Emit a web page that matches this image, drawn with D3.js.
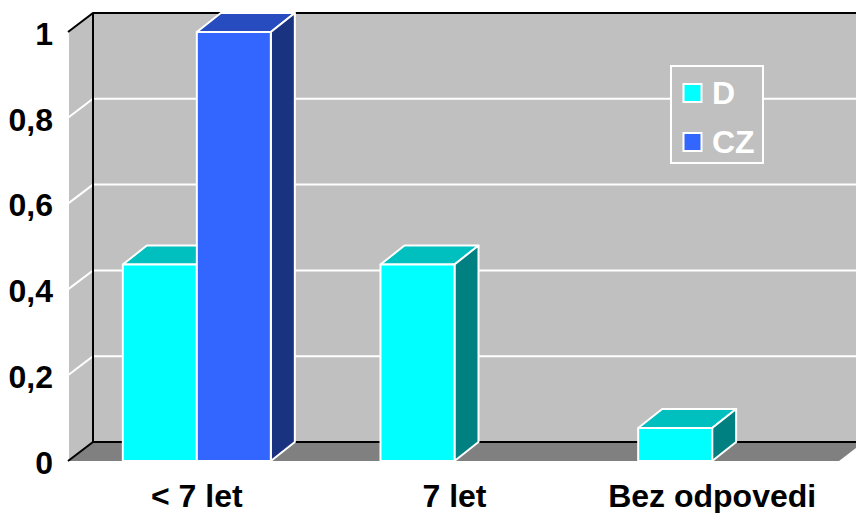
<!DOCTYPE html>
<html>
<head>
<meta charset="utf-8">
<script src="https://cdnjs.cloudflare.com/ajax/libs/d3/7.8.5/d3.min.js"></script>
<style>
  html, body { margin: 0; padding: 0; background: #fff; overflow: hidden; }
  text { font-family: "Liberation Sans", Arial, sans-serif; font-weight: bold; }
</style>
</head>
<body>
<div id="chart"></div>
<script>
// chart data
var categories = ["< 7 let", "7 let", "Bez odpovedi"];
var seriesNames = ["D", "CZ"];
var valuesD = [0.458, 0.458, 0.077];
var valuesCZ = [1, null, null];
var yTicks = [0, 0.2, 0.4, 0.6, 0.8, 1];
var yTickLabels = ["0", "0,2", "0,4", "0,6", "0,8", "1"];

var svgWidth = 856;
var svgHeight = 513;

// front plane of the box, and how far the back wall is shifted
var plot = { left: 68, right: 839, top: 32, bottom: 461 };
var depth = { x: 25, y: -19 };
var barDepth = { x: 24, y: -19 };
var labelSize = 32;

var colors = {
  D: { front: "#00ffff", top: "#00bfbf", side: "#008080" },
  CZ: { front: "#3366ff", top: "#264cbf", side: "#1a3380" }
};

var svg = d3.select("#chart")
  .append("svg")
  .attr("width", svgWidth)
  .attr("height", svgHeight)
  .style("display", "block");

var xScale = d3.scaleBand()
  .domain(categories)
  .range([plot.left, plot.right + 2]);

// bars of one category sit next to each other with no gap
var xInner = d3.scaleBand()
  .domain(seriesNames)
  .range([0, xScale.bandwidth()])
  .paddingOuter(0.741);

var yScale = d3.scaleLinear()
  .domain([0, 1])
  .range([plot.bottom, plot.top]);

function poly(points) {
  return points.map(p => p.join(",")).join(" ");
}

// walls and floor
var y0 = yScale(0), y1 = yScale(1);
svg.append("polygon")
  .attr("points", poly([[plot.left + depth.x, y1 + depth.y], [plot.right + depth.x, y1 + depth.y], [plot.right + depth.x, y0 + depth.y], [plot.left + depth.x, y0 + depth.y]]))
  .attr("fill", "#c0c0c0");
svg.append("polygon")
  .attr("points", poly([[plot.left, y1], [plot.left + depth.x, y1 + depth.y], [plot.left + depth.x, y0 + depth.y], [plot.left, y0]]))
  .attr("fill", "#c0c0c0");
svg.append("polygon")
  .attr("points", poly([[plot.left, y0], [plot.right, y0], [plot.right + depth.x, y0 + depth.y], [plot.left + depth.x, y0 + depth.y]]))
  .attr("fill", "#808080");

// gridlines run along the left wall and then the back wall
var grid = svg.append("g");
grid.selectAll("polyline")
  .data(yTicks.filter(d => d > 0 && d < 1))
  .enter().append("polyline")
  .attr("points", d => poly([[plot.left, yScale(d)], [plot.left + depth.x, yScale(d) + depth.y], [plot.right + depth.x, yScale(d) + depth.y]]))
  .attr("fill", "none")
  .attr("stroke", "#fff")
  .attr("stroke-width", 2);

// white front edge of the left wall
svg.append("line")
  .attr("x1", plot.left).attr("x2", plot.left)
  .attr("y1", y1).attr("y2", y0)
  .attr("stroke", "#fff").attr("stroke-width", 2);

// black frame of the box
svg.append("polyline")
  .attr("points", poly([[plot.left, y1], [plot.left + depth.x, y1 + depth.y], [plot.right + depth.x, y1 + depth.y]]))
  .attr("fill", "none").attr("stroke", "#000").attr("stroke-width", 2);
svg.append("polyline")
  .attr("points", poly([[plot.left + depth.x, y1 + depth.y], [plot.left + depth.x, y0 + depth.y], [plot.right + depth.x, y0 + depth.y]]))
  .attr("fill", "none").attr("stroke", "#000").attr("stroke-width", 2);
svg.append("line")
  .attr("x1", plot.left).attr("y1", y0)
  .attr("x2", plot.left + depth.x).attr("y2", y0 + depth.y)
  .attr("stroke", "#000").attr("stroke-width", 2);

// flatten the two series into one list of bars
var bars = [];
categories.forEach((cat, i) => {
  bars.push({ category: cat, series: "D", value: valuesD[i] });
  bars.push({ category: cat, series: "CZ", value: valuesCZ[i] });
});
bars = bars.filter(d => d.value !== null);

function drawBar(g, d) {
  var x0 = xScale(d.category) + xInner(d.series);
  var x1 = x0 + xInner.bandwidth();
  var top = yScale(d.value);
  var c = colors[d.series];
  var dx = barDepth.x, dy = barDepth.y;
  g.append("polygon")
    .attr("points", poly([[x0, top], [x0 + dx, top + dy], [x1 + dx, top + dy], [x1, top]]))
    .attr("fill", c.top);
  g.append("polygon")
    .attr("points", poly([[x1, top], [x1 + dx, top + dy], [x1 + dx, y0 + dy], [x1, y0]]))
    .attr("fill", c.side);
  g.append("rect")
    .attr("x", x0).attr("y", top)
    .attr("width", x1 - x0).attr("height", y0 - top)
    .attr("fill", c.front);
  g.selectAll("polygon, rect")
    .attr("stroke", "#fff")
    .attr("stroke-width", 2)
    .attr("stroke-linejoin", "round");
}

svg.append("g").selectAll("g")
  .data(bars)
  .enter().append("g")
  .each(function(d) { drawBar(d3.select(this), d); });

// y axis, labels only
var yAxis = d3.axisLeft(yScale)
  .tickValues(yTicks)
  .tickFormat((d, i) => yTickLabels[i])
  .tickSize(0)
  .tickPadding(15);
var yAxisG = svg.append("g")
  .attr("transform", `translate(${plot.left}, 2)`)
  .call(yAxis);
yAxisG.select(".domain").remove();
yAxisG.selectAll("text")
  .attr("font-size", labelSize)
  .attr("font-family", null)
  .attr("fill", "#000");

// x axis, labels only
var xAxis = d3.axisBottom(xScale)
  .tickSize(0)
  .tickPadding(23);
var xAxisG = svg.append("g")
  .attr("transform", `translate(0, ${y0})`)
  .call(xAxis);
xAxisG.select(".domain").remove();
xAxisG.selectAll("text")
  .attr("font-size", labelSize)
  .attr("font-family", null)
  .attr("fill", "#000");

// legend
var legend = svg.append("g")
  .attr("transform", "translate(671, 66)");
legend.append("rect")
  .attr("width", 92)
  .attr("height", 97)
  .attr("fill", "#c0c0c0")
  .attr("stroke", "#fff")
  .attr("stroke-width", 2);
var legendRow = d3.scalePoint()
  .domain(seriesNames)
  .range([27, 76]);
var rows = legend.selectAll(".row")
  .data(seriesNames)
  .enter().append("g")
  .attr("class", "row")
  .attr("transform", d => `translate(0, ${legendRow(d)})`);
rows.append("rect")
  .attr("x", 12.5).attr("y", -9)
  .attr("width", 18).attr("height", 18)
  .attr("fill", d => colors[d].front)
  .attr("stroke", "#fff")
  .attr("stroke-width", 2);
rows.append("text")
  .attr("x", 41)
  .attr("y", 11)
  .attr("font-size", labelSize)
  .attr("fill", "#fff")
  .text(d => d);
</script>
</body>
</html>
